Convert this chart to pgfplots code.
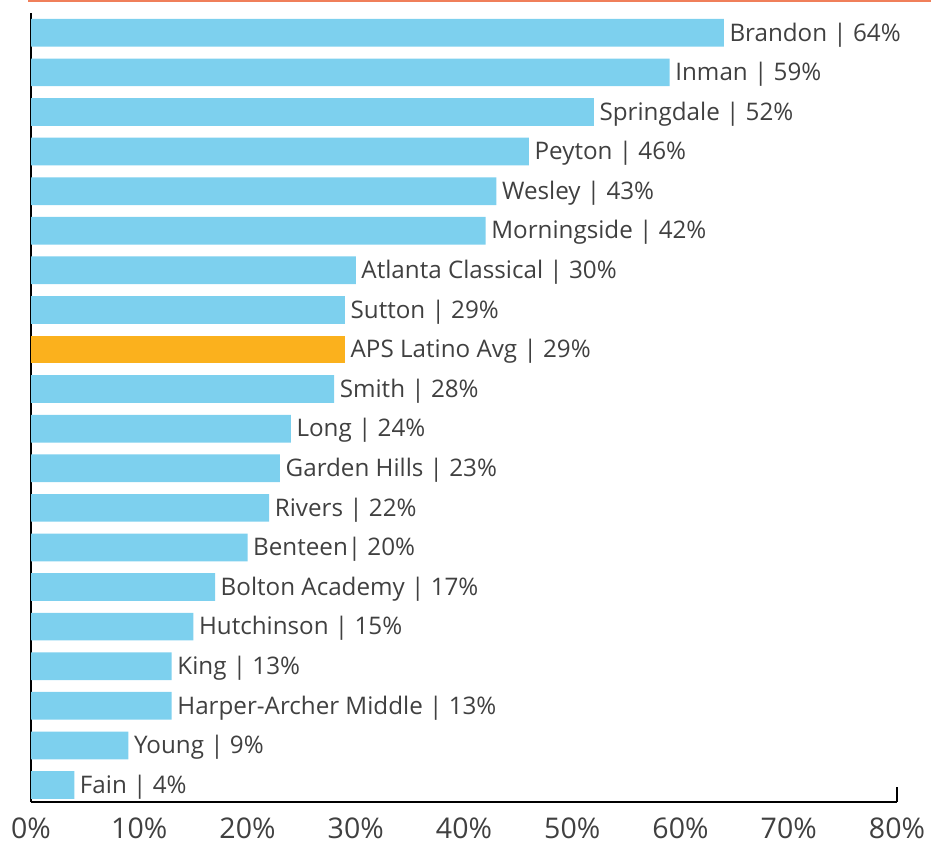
\documentclass[border=0pt]{standalone}
\usepackage{pgfplots}
\pgfplotsset{compat=1.18}
\usepackage{fontspec}
\setmainfont{Open Sans}
\definecolor{barblue}{HTML}{7DD0EE}
\definecolor{barorange}{HTML}{FBB11D}
\definecolor{topline}{HTML}{F07F5A}
\definecolor{txt}{HTML}{404040}
\begin{document}
\begin{tikzpicture}
\begin{axis}[
  scale only axis,
  width=866bp, height=789bp,
  xmin=0, xmax=80, ymin=0.57, ymax=20.5,
  xbar, bar width=0.7, bar shift=0pt,
  axis lines=left,
  axis line style={-, black, line width=1.5bp},
  xtick={0,10,...,80},
  xtick style={draw=none},
  ytick=\empty,
  xticklabel={\pgfmathprintnumber{\tick}\%},
  /pgf/number format/assume math mode=true,
  xticklabel style={font=\fontsize{28.5bp}{32bp}\selectfont, text=txt, yshift=-12bp, inner sep=1bp},
  nodes near coords,
  point meta=explicit symbolic,
  every node near coord/.append style={font=\fontsize{24.2bp}{28bp}\selectfont, text=txt, anchor=west, inner sep=2bp, xshift=3.5bp, yshift=-2bp},
  clip=false,
]
\addplot[fill=barblue, draw=none] coordinates {
(64,20) [Brandon | 64\%]
(59,19) [Inman | 59\%]
(52,18) [Springdale | 52\%]
(46,17) [Peyton | 46\%]
(43,16) [Wesley | 43\%]
(42,15) [Morningside | 42\%]
(30,14) [Atlanta Classical | 30\%]
(29,13) [Sutton | 29\%]
(28,11) [Smith | 28\%]
(24,10) [Long | 24\%]
(23,9) [Garden Hills | 23\%]
(22,8) [Rivers | 22\%]
(20,7) [Benteen| 20\%]
(17,6) [Bolton Academy | 17\%]
(15,5) [Hutchinson | 15\%]
(13,4) [King | 13\%]
(13,3) [Harper-Archer Middle | 13\%]
(9,2) [Young | 9\%]
(4,1) [Fain | 4\%]
};
\addplot[fill=barorange, draw=none] coordinates {
(29,12) [APS Latino Avg | 29\%]
};
\coordinate (bl) at (rel axis cs:0,0);
\coordinate (br) at (rel axis cs:1,0);
\coordinate (tl) at (rel axis cs:0,1);
\coordinate (tr) at (rel axis cs:1,1);
\end{axis}
\draw[black, line width=1.5bp] (br) -- ++(0,15bp);
\draw[topline, line width=2bp] ([shift={(-3bp,12bp)}]tl) -- ([shift={(34bp,12bp)}]tr);
\pgfresetboundingbox
\path[use as bounding box] ([shift={(-31bp,-50bp)}]bl) rectangle ([shift={(34bp,13bp)}]tr);
\end{tikzpicture}
\end{document}
